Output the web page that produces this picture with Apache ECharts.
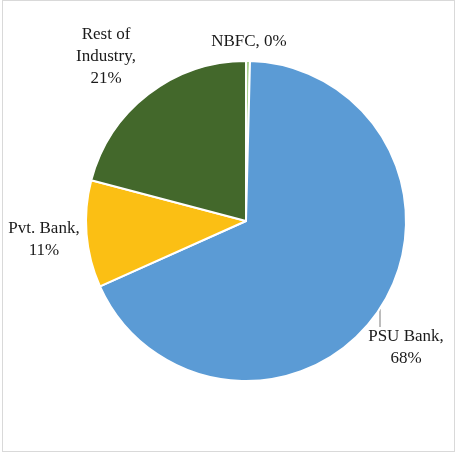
<!DOCTYPE html>
<html>
<head>
<meta charset="utf-8">
<script src="https://cdn.jsdelivr.net/npm/echarts@6/dist/echarts.min.js"></script>
<style>
html,body{margin:0;padding:0;background:#fff;}
#frame{position:absolute;left:2px;top:0;width:453px;height:452px;border:1px solid #d9d9d9;box-sizing:border-box;}
#chart{position:absolute;left:0;top:0;width:457px;height:455px;}
</style>
</head>
<body>
<div id="frame"></div>
<div id="chart"></div>
<script>
// Data (clockwise from 12 o'clock)
const categories = ['NBFC', 'PSU Bank', 'Pvt. Bank', 'Rest of Industry'];
const shares = [0.4, 67.9, 10.8, 20.9];
const labelNames = ['NBFC, ', 'PSU Bank,\n', 'Pvt. Bank,\n', 'Rest of\nIndustry,\n'];
const colors = ['#A9D18E', '#5B9BD5', '#FBBF14', '#43682B'];

// label anchor positions (layout only)
const labelPos = [
  {x: 249, y: 42},
  {x: 406, y: 348},
  {x: 44, y: 240},
  {x: 106, y: 57}
];

const chart = echarts.init(document.getElementById('chart'), null, {renderer: 'canvas'});
chart.setOption({
  animation: false,
  series: [{
    type: 'pie',
    center: [246, 221],
    radius: [0, 160],
    startAngle: 90,
    clockwise: true,
    avoidLabelOverlap: false,
    emphasis: {disabled: true},
    itemStyle: {borderColor: '#ffffff', borderWidth: 2},
    label: {
      show: true,
      position: 'outside',
      fontFamily: '"Liberation Serif", "DejaVu Serif", serif',
      fontSize: 17,
      lineHeight: 22,
      color: '#1a1a1a',
      align: 'center',
      formatter: function (p) {
        return labelNames[p.dataIndex] + Math.round(p.percent) + '%';
      }
    },
    labelLine: {show: false},
    labelLayout: function (params) {
      const p = labelPos[params.dataIndex];
      return {x: p.x, y: p.y, align: 'center', verticalAlign: 'middle'};
    },
    data: categories.map((c, i) => ({name: c, value: shares[i], itemStyle: {color: colors[i]}}))
  }],
  graphic: [{
    type: 'line',
    shape: {x1: 380, y1: 309, x2: 380, y2: 327},
    style: {stroke: '#a6a6a6', lineWidth: 1.5}
  }]
});
</script>
</body>
</html>
